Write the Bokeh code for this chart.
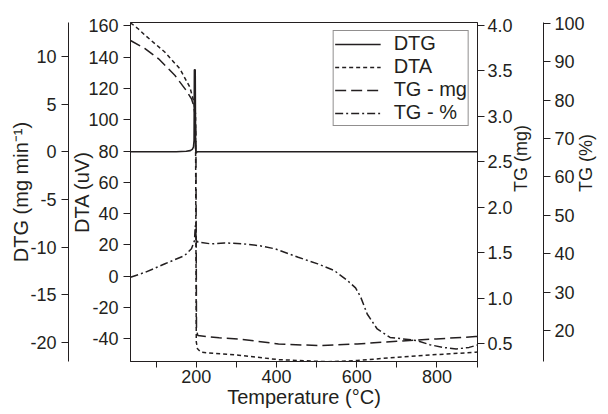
import math
from bokeh.plotting import figure
from bokeh.models import LinearAxis, Range1d, FixedTicker, Legend
from bokeh.embed import file_html
from bokeh.resources import INLINE

# ---------------- data ----------------
temp_dtg = [36, 150, 175, 185, 190, 193, 194.5, 195.3, 197.3, 198.3, 199.5, 202, 300, 500, 700, 901]
dtg = [0, 0, 0.05, 0.12, 0.25, 0.5, 1.2, 8.6, 8.6, 0.4, -0.15, 0, 0, 0, 0, 0]

temp_dta = [36, 55, 73, 122, 159, 184, 193, 198, 200, 203, 212, 306, 405, 503, 528, 601, 700, 798, 896, 901]
dta = [162, 158.2, 153.9, 143.2, 132.6, 120.8, 112.3, 104, -42, -46.4, -48.6, -50.5, -53.3, -54.4,
       -54.6, -53.9, -51.8, -50.1, -48.6, -48.5]

temp_tgmg = [36, 73, 106, 147, 175, 188, 193.4, 197.5, 199, 200.5, 204, 257, 306, 405, 503, 601, 700, 798, 896, 901]
tg_mg = [3.835, 3.744, 3.634, 3.45, 3.285, 3.194, 3.12, 3.0, 2.8, 0.65, 0.59, 0.565, 0.553, 0.498,
         0.48, 0.498, 0.527, 0.553, 0.579, 0.58]

temp_tgpct = [36, 73, 122, 171, 188, 195.5, 197.5, 200, 204, 237, 270, 319, 356, 397, 454, 503, 544,
              577, 597, 610, 626, 651, 683, 716, 749, 782, 815, 848, 880, 897, 901]
tg_pct = [33.87, 35.17, 37.36, 39.52, 41.27, 43.4, 47.3, 44.0, 43.0, 42.55, 42.81, 42.55, 42.1, 41.25,
          39.06, 37.34, 35.6, 33.0, 31.1, 28.65, 24.3, 20.4, 18.2, 17.8, 17.4, 16.3, 15.6, 15.2, 15.6,
          16.1, 16.2]

x_major_ticks = [200, 400, 600, 800]
x_minor_ticks = [100, 300, 500, 700, 900]
dtg_ticks = [-20, -15, -10, -5, 0, 5, 10]
dta_ticks = [-40, -20, 0, 20, 40, 60, 80, 100, 120, 140, 160]
tgmg_ticks = [0.5, 1.0, 1.5, 2.0, 2.5, 3.0, 3.5, 4.0]
tgpct_ticks = [20, 30, 40, 50, 60, 70, 80, 90, 100]

legend_labels = ["DTG", "DTA", "TG - mg", "TG - %"]

# ---------------- styling ----------------
INK = "#231f20"
FONT = "Liberation Sans"
TICK_FS = "18px"
TITLE_FS = "20px"

p = figure(width=608, height=414,
           x_range=Range1d(36, 901), y_range=Range1d(-54.5, 162.2),
           output_backend="svg", toolbar_location=None,
           min_border_left=130, min_border_right=126, min_border_top=22, min_border_bottom=53)
p.extra_y_ranges = {
    "dtg": Range1d(-22.0, 13.56),
    "tgmg": Range1d(0.305, 4.033),
    "tgpct": Range1d(11.93, 100.18),
}
p.xgrid.visible = False
p.ygrid.visible = False
p.outline_line_color = INK
p.outline_line_width = 1
p.background_fill_color = "white"
p.border_fill_color = "white"


def style(ax, label, ticks=None, overrides=None, tick_out=7, standoff=4, title_fs=TITLE_FS):
    ax.axis_label = label
    if ticks is not None:
        ax.ticker = FixedTicker(ticks=ticks)
    if overrides:
        ax.major_label_overrides = overrides
    ax.axis_line_color = INK
    ax.axis_line_width = 1
    ax.major_tick_line_color = INK
    ax.major_tick_in = 0
    ax.major_tick_out = tick_out
    ax.minor_tick_in = 0
    ax.minor_tick_out = 0
    ax.major_label_text_font = FONT
    ax.major_label_text_font_size = TICK_FS
    ax.major_label_text_color = INK
    ax.major_label_standoff = standoff
    ax.axis_label_text_font = FONT
    ax.axis_label_text_font_size = title_fs
    ax.axis_label_text_font_style = "normal"
    ax.axis_label_text_color = INK


# x axis
xa = p.xaxis[0]
style(xa, "Temperature (°C)", tick_out=6, standoff=2)
xa.ticker = FixedTicker(ticks=x_major_ticks, minor_ticks=x_minor_ticks)
xa.minor_tick_out = 6
xa.minor_tick_line_color = INK
xa.axis_label_standoff = 0

# DTA axis (inner left)
ya = p.yaxis[0]
style(ya, "DTA (uV)", dta_ticks, {t: str(t) for t in dta_ticks}, tick_out=7, standoff=5)
ya.axis_label_standoff = -8

# DTG axis (outer left)
dtg_axis = LinearAxis(y_range_name="dtg")
style(dtg_axis, "DTG (mg min⁻¹)", dtg_ticks, {t: str(t) for t in dtg_ticks}, tick_out=7, standoff=5)
dtg_axis.axis_label_standoff = -5
p.add_layout(dtg_axis, "left")

# TG mg axis (inner right)
tgmg_axis = LinearAxis(y_range_name="tgmg")
style(tgmg_axis, "TG (mg)", tgmg_ticks, {t: f"{t:.1f}" for t in tgmg_ticks}, tick_out=7, standoff=3,
      title_fs="18px")
tgmg_axis.axis_label_standoff = 5
tgmg_axis.axis_label_orientation = math.pi / 2
p.add_layout(tgmg_axis, "right")

# TG % axis (outer right)
tgpct_axis = LinearAxis(y_range_name="tgpct")
style(tgpct_axis, "TG (%)", tgpct_ticks, {t: str(t) for t in tgpct_ticks}, tick_out=7, standoff=4,
      title_fs="18px")
tgpct_axis.axis_label_standoff = -2
tgpct_axis.axis_label_orientation = math.pi / 2
p.add_layout(tgpct_axis, "right")

# ---------------- curves ----------------
r_dtg = p.line(temp_dtg, dtg, y_range_name="dtg", line_color=INK, line_width=1.6)
r_dta = p.line(temp_dta, dta, line_color=INK, line_width=1.5, line_dash="4 3")
r_tgmg = p.line(temp_tgmg, tg_mg, y_range_name="tgmg", line_color=INK, line_width=1.5, line_dash="11 5")
r_tgpct = p.line(temp_tgpct, tg_pct, y_range_name="tgpct", line_color=INK, line_width=1.5,
                 line_dash="8 3 2 3")

legend = Legend(items=[(legend_labels[0], [r_dtg]), (legend_labels[1], [r_dta]),
                       (legend_labels[2], [r_tgmg]), (legend_labels[3], [r_tgpct])],
                location="top_right")
legend.border_line_color = INK
legend.border_line_width = 1
legend.background_fill_color = "white"
legend.background_fill_alpha = 1
legend.label_text_font = FONT
legend.label_text_font_size = TITLE_FS
legend.label_text_color = INK
legend.glyph_width = 46
legend.glyph_height = 20
legend.label_standoff = 13
legend.padding = 1
legend.spacing = 0
legend.margin = 8
p.add_layout(legend)

open("out.html", "w").write(file_html(p, INLINE))
